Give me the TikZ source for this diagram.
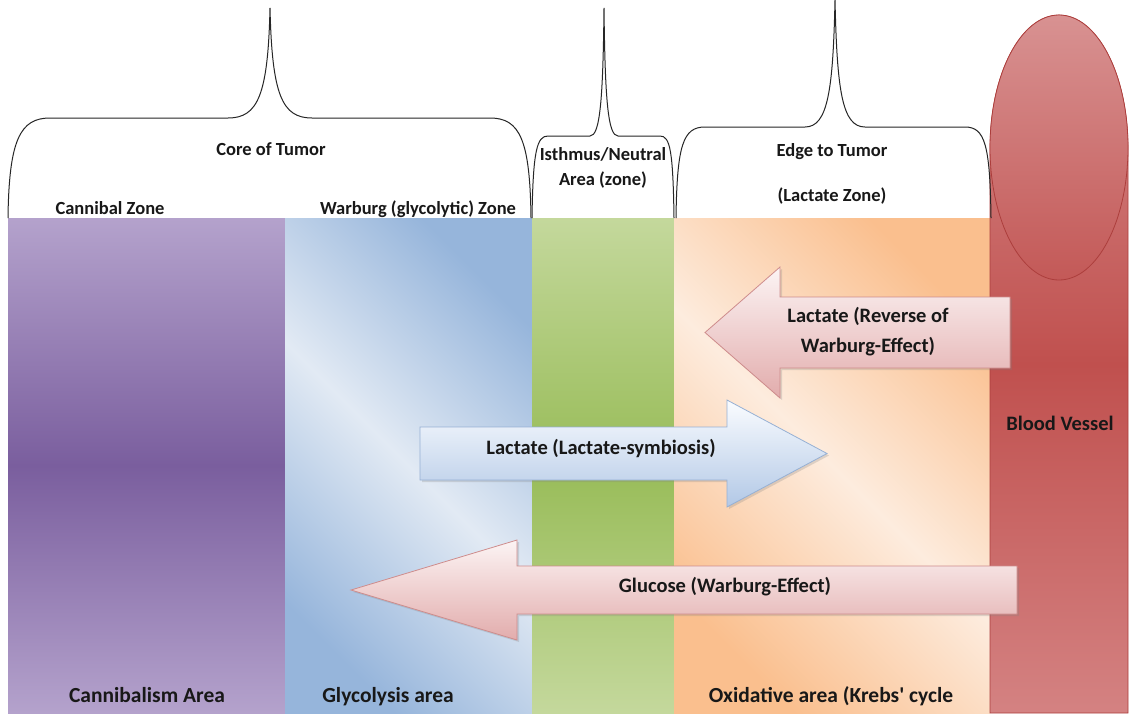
\documentclass[tikz,border=0pt]{standalone}
\usepackage{fontspec}
\setmainfont{Carlito}
\definecolor{cbpurplelt}{RGB}{180,162,204}
\definecolor{cbpurpledk}{RGB}{122,94,158}
\definecolor{cbblue}{RGB}{150,181,219}
\definecolor{cblight}{RGB}{226,234,244}
\definecolor{cbgreenlt}{RGB}{196,216,156}
\definecolor{cbgreendk}{RGB}{152,188,88}
\definecolor{cborange}{RGB}{250,191,142}
\definecolor{cbpeach}{RGB}{253,236,222}
\definecolor{vesseltop}{RGB}{214,140,140}
\definecolor{vesselmid}{RGB}{192,80,78}
\definecolor{vesselbot}{RGB}{212,130,130}
\definecolor{vesseledge}{RGB}{172,62,60}
\definecolor{pinklt}{RGB}{252,244,244}
\definecolor{pinkdk}{RGB}{226,172,172}
\definecolor{pinkedge}{RGB}{206,140,140}
\definecolor{bluelt}{RGB}{250,252,255}
\definecolor{bluedk}{RGB}{178,200,230}
\definecolor{blueedge}{RGB}{150,176,212}
\definecolor{txtdark}{RGB}{24,24,24}
\usetikzlibrary{shadows}

\begin{document}
\begin{tikzpicture}[x=1pt,y=-1pt,
  bracket/.style={draw=black!85,line width=1pt},
  toplabel/.style={font=\fontsize{18.5}{25}\selectfont\bfseries,text=txtdark,inner sep=0pt},
  arrowlabel/.style={font=\fontsize{20.5}{30}\selectfont\bfseries,text=txtdark,inner sep=0pt},
  arealabel/.style={font=\fontsize{21.5}{26}\selectfont\bfseries,text=txtdark,inner sep=0pt},
  pinkarrow/.style={draw=pinkedge,line width=0.8pt,top color=pinklt,bottom color=pinkdk,
    drop shadow={opacity=0.25,shadow xshift=2pt,shadow yshift=-2pt}},
  bluearrow/.style={draw=blueedge,line width=0.8pt,top color=bluelt,bottom color=bluedk,
    drop shadow={opacity=0.25,shadow xshift=2pt,shadow yshift=-2pt}}
]
  \useasboundingbox[fill=white] (0,0) rectangle (1134,713);
  % zone bands
  \shade[top color=cbpurplelt,bottom color=cbpurplelt,middle color=cbpurpledk] (8,218) rectangle (285,713);
  \shade[top color=cbblue,bottom color=cbblue,middle color=cblight,shading angle=-45] (285,218) rectangle (532,713);
  \shade[top color=cbgreenlt,bottom color=cbgreenlt,middle color=cbgreendk] (532,218) rectangle (674,713);
  \shade[top color=cborange,bottom color=cborange,middle color=cbpeach,shading angle=-45] (674,218) rectangle (990,713);
  % blood vessel
  \shade[top color=vesseltop,bottom color=vesselbot,middle color=vesselmid,draw=vesseledge,line width=0.6pt]
    (990,713) -- (990,147.5) arc[start angle=180,end angle=360,x radius=69,y radius=132.5] -- (1128,713) -- cycle;
  \shade[top color=vesseltop!95!white,bottom color=vesselmid!85!vesseltop,draw=vesseledge,line width=0.8pt]
    (1059,147.5) ellipse[x radius=69,y radius=132.5];
  % brackets
  \draw[bracket] (8,218) .. controls (9,140) and (20,118) .. (50,118) -- (228,118)
    .. controls (258,118) and (268,95) .. (270,8) .. controls (272,95) and (282,118) .. (312,118)
    -- (490,118) .. controls (520,118) and (530,140) .. (531,218);
  \draw[bracket] (532,218) .. controls (533,150) and (537,136) .. (548,136) -- (590,136)
    .. controls (600,136) and (603,100) .. (604,8) .. controls (605,100) and (608,136) .. (618,136)
    -- (660,136) .. controls (670,136) and (673,150) .. (674,218);
  \draw[bracket] (676,218) .. controls (677,145) and (683,127) .. (705,127) -- (805,127)
    .. controls (828,127) and (833,90) .. (835,0) .. controls (837,90) and (842,127) .. (865,127)
    -- (965,127) .. controls (985,127) and (990,145) .. (991,218);
  % arrows
  \path[pinkarrow] (1010,297) -- (780,297) -- (780,267) -- (705,332.5) -- (780,398) -- (780,368) -- (1010,368) -- cycle;
  \path[bluearrow] (420,427) -- (727,427) -- (727,400) -- (827,453.5) -- (727,507) -- (727,480) -- (420,480) -- cycle;
  \path[pinkarrow] (1017,566) -- (517,566) -- (517,540) -- (351,590) -- (517,640) -- (517,614) -- (1017,614) -- cycle;
  % labels
  \node[toplabel,anchor=base] (core) at (271,155) {Core of Tumor};
  \node[toplabel,anchor=base] (cannibal) at (110,214) {Cannibal Zone};
  \node[toplabel,anchor=base] (warburg) at (418,214) {Warburg (glycolytic) Zone};
  \node[toplabel,align=center] (isthmus) at (603,168) {Isthmus/Neutral\\Area (zone)};
  \node[toplabel,anchor=base] (edge) at (832,156) {Edge to Tumor};
  \node[toplabel,anchor=base] (lactzone) at (832,201) {(Lactate Zone)};
  \node[arrowlabel,align=center] (reverse) at (868,332) {Lactate (Reverse of\\Warburg-Effect)};
  \node[arrowlabel,anchor=base] (symbiosis) at (601,454) {Lactate (Lactate-symbiosis)};
  \node[arrowlabel,anchor=base] (glucose) at (725,592) {Glucose (Warburg-Effect)};
  \node[arrowlabel,anchor=base] (vessel) at (1060,430) {Blood Vessel};
  \node[arealabel,anchor=base] (cannarea) at (147,702) {Cannibalism Area};
  \node[arealabel,anchor=base] (glyarea) at (388,702) {Glycolysis area};
  \node[arealabel,anchor=base] (oxarea) at (831,702) {Oxidative area (Krebs\textquotesingle\ cycle};
\end{tikzpicture}
\end{document}
